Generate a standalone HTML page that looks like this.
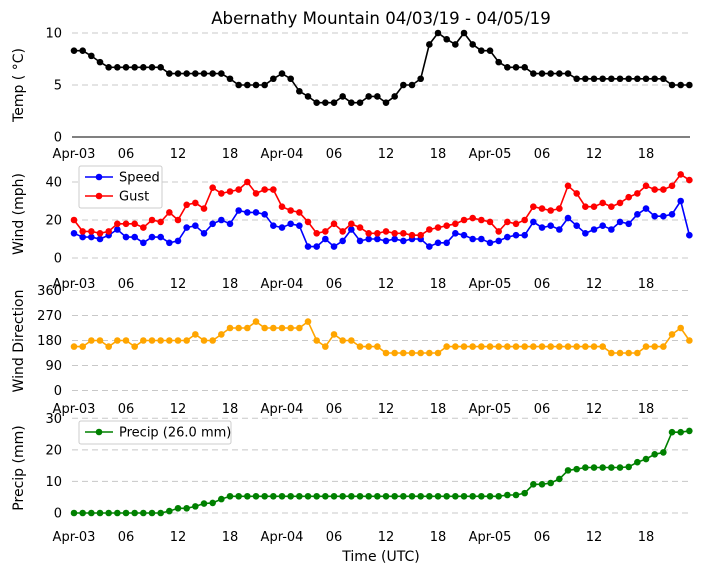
<!DOCTYPE html>
<html><head><meta charset="utf-8"><style>
html,body{margin:0;padding:0;background:#fff;}
svg{display:block;font-family:"DejaVu Sans","Liberation Sans",sans-serif;}
</style></head><body>
<svg id="chart" width="704" height="573" viewBox="0 0 704 573" xmlns="http://www.w3.org/2000/svg">
<text x="381" y="24" font-size="16.6" text-anchor="middle">Abernathy Mountain 04/03/19 - 04/05/19</text>
<text x="381" y="561" font-size="14" text-anchor="middle">Time (UTC)</text>
</svg>
<script>
const xTickLabels = ["Apr-03","06","12","18","Apr-04","06","12","18","Apr-05","06","12","18"];
const temp = [8.3,8.3,7.8,7.2,6.7,6.7,6.7,6.7,6.7,6.7,6.7,6.1,6.1,6.1,6.1,6.1,6.1,6.1,5.6,5.0,5.0,5.0,5.0,5.6,6.1,5.6,4.4,3.9,3.3,3.3,3.3,3.9,3.3,3.3,3.9,3.9,3.3,3.9,5.0,5.0,5.6,8.9,10,9.4,8.9,10,8.9,8.3,8.3,7.2,6.7,6.7,6.7,6.1,6.1,6.1,6.1,6.1,5.6,5.6,5.6,5.6,5.6,5.6,5.6,5.6,5.6,5.6,5.6,5.0,5.0,5.0];
const speed = [13,11,11,10,12,15,11,11,8,11,11,8,9,16,17,13,18,20,18,25,24,24,23,17,16,18,17,6,6,10,6,9,15,9,10,10,9,10,9,10,10,6,8,8,13,12,10,10,8,9,11,12,12,19,16,17,15,21,17,13,15,17,15,19,18,23,26,22,22,23,30,12];
const gust = [20,14,14,13,14,18,18,18,16,20,19,24,20,28,29,26,37,34,35,36,40,34,36,36,27,25,24,19,13,14,18,14,18,16,13,13,14,13,13,12,12,15,16,17,18,20,21,20,19,14,19,18,20,27,26,25,26,38,34,27,27,29,27,29,32,34,38,36,36,38,44,41];
const dir = [158,158,180,180,158,180,180,158,180,180,180,180,180,180,202,180,180,202,225,225,225,248,225,225,225,225,225,248,180,158,202,180,180,158,158,158,135,135,135,135,135,135,135,158,158,158,158,158,158,158,158,158,158,158,158,158,158,158,158,158,158,158,135,135,135,135,158,158,158,202,225,180];
const precip = [0,0,0,0,0,0,0,0,0,0,0,0.6,1.5,1.5,2.1,3.0,3.2,4.4,5.3,5.3,5.3,5.3,5.3,5.3,5.3,5.3,5.3,5.3,5.3,5.3,5.3,5.3,5.3,5.3,5.3,5.3,5.3,5.3,5.3,5.3,5.3,5.3,5.3,5.3,5.3,5.3,5.3,5.3,5.3,5.3,5.7,5.7,6.3,9.1,9.1,9.5,10.8,13.5,13.9,14.4,14.4,14.4,14.4,14.4,14.6,16.1,17.1,18.6,19.2,25.6,25.6,26.0];
const tempTicks = [0,5,10];
const windTicks = [0,20,40];
const dirTicks = [0,90,180,270,360];
const precipTicks = [0,10,20,30];

const NS = "http://www.w3.org/2000/svg";
const svg = document.getElementById('chart');
const X0 = 74, DX = 8.667;
function xScale(i){ return X0 + i*DX; }
function mk(tag, attrs, parent){ const e=document.createElementNS(NS,tag); for(const k in attrs) e.setAttribute(k,attrs[k]); (parent||svg).appendChild(e); return e; }

function panel(cfg){
  const g = mk('g',{});
  
  
  const y = v => cfg.y0 - v/(cfg.max)*(cfg.y0 - cfg.yTop);
  cfg.ticks.forEach(t=>{
    const yy = y(t);
    const solid = cfg.solidZero && t===0;
    const ln = mk('line',{x1:72,x2:690,y1:yy,y2:yy,stroke:solid?'#000':'#c8c8c8','stroke-width':1,'stroke-dasharray':solid?'none':'6,4'},g);
    
    
    const tx = mk('text',{x:62,y:yy+4.5,'font-size':13,'text-anchor':'end'},g);
    
    
    tx.textContent = t;
  });
  xTickLabels.forEach((lab,k)=>{
    const tx = mk('text',{x:xScale(k*6),y:cfg.labY,'font-size':13,'text-anchor':'middle'},g);
    
    
    tx.textContent = lab;
  });
  const yt = mk('text',{x:0,y:0,'font-size':14,'text-anchor':'middle',transform:`translate(23,${cfg.titleY}) rotate(-90)`},g);
  
  
  yt.textContent = cfg.title;
  cfg.series.forEach(s=>{
    const pts = s.data.map((v,i)=>xScale(i).toFixed(1)+','+y(v).toFixed(1)).join(' ');
    const pl = mk('polyline',{points:pts,fill:'none',stroke:s.color,'stroke-width':1.6},g);
    
    
    s.data.forEach((v,i)=>{
      const c = mk('circle',{cx:xScale(i),cy:y(v),r:3.3,fill:s.color},g);
      
      
    });
  });
  return g;
}
panel({name:'temp',y0:137,yTop:33,max:10,ticks:tempTicks,labY:158,titleY:85,title:'Temp ( °C)',solidZero:true,series:[{name:'temp',data:temp,color:'#000'}]});
panel({name:'wind',y0:258,yTop:182,max:40,ticks:windTicks,labY:288,titleY:214,title:'Wind (mph)',series:[{name:'speed',data:speed,color:'#0000ff'},{name:'gust',data:gust,color:'#ff0000'}]});
panel({name:'direction',y0:390.5,yTop:290.5,max:360,ticks:dirTicks,labY:413,titleY:341,title:'Wind Direction',series:[{name:'direction',data:dir,color:'#ffa500'}]});
panel({name:'precip',y0:513,yTop:418.3,max:30,ticks:precipTicks,labY:541,titleY:468,title:'Precip (mm)',series:[{name:'precip',data:precip,color:'#008000'}]});

function legend(x,y,w,h,entries){
  const g = mk('g',{});
  
  
  mk('rect',{x:x,y:y,width:w,height:h,rx:2,fill:'#fff',stroke:'#ccc'},g);
  entries.forEach((e,k)=>{
    const yy = y+11+k*19;
    const eg = mk('g',{},g);
    
    
    mk('line',{x1:x+6,x2:x+34,y1:yy,y2:yy,stroke:e.color,'stroke-width':1.6},eg);
    mk('circle',{cx:x+20,cy:yy,r:3.3,fill:e.color},eg);
    const t = mk('text',{x:x+40,y:yy+4.5,'font-size':13},eg);
    t.textContent = e.label;
  });
}
legend(79,166,83,42,[{label:'Speed',color:'#0000ff'},{label:'Gust',color:'#ff0000'}]);
legend(79,421,152,23,[{label:'Precip (26.0 mm)',color:'#008000'}]);
</script>
</body></html>
